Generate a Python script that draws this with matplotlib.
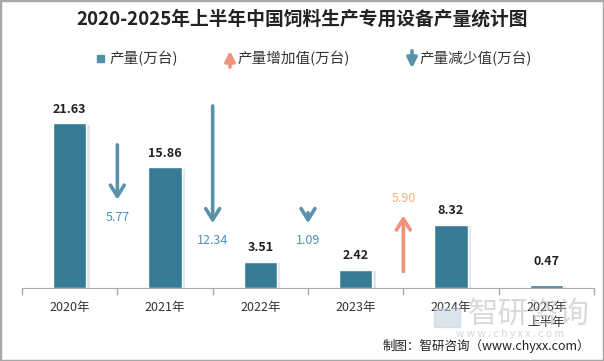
import numpy as np
import matplotlib.pyplot as plt
import matplotlib.patheffects as pe
from matplotlib.patches import Rectangle, FancyArrowPatch

plt.rcParams['font.family'] = ['Noto Sans CJK SC', 'DejaVu Sans']

# 数据
years = ['2020年', '2021年', '2022年', '2023年', '2024年', '2025年\n上半年']
output = [21.63, 15.86, 3.51, 2.42, 8.32, 0.47]
change = [-5.77, -12.34, -1.09, 5.90]

# 箭头起点（数据坐标）
arrow_tail = [18.8, 23.9, 9.9, 2.2]
k = 1.245

bar_color = '#367A94'
down_color = '#5B92AA'
down_text = '#4E90B8'
up_color = '#F0937B'
up_text = '#F5B07A'

fig = plt.figure(figsize=(6.04, 3.61), dpi=100)
ax = fig.add_axes([22 / 604, 72.7 / 361, 572 / 604, 190.75 / 361])

x = np.arange(len(years))
bars = ax.bar(x, output, width=0.35, color=bar_color, edgecolor='white',
              linewidth=1, zorder=3)
for b in bars:
    b.set_path_effects([pe.SimplePatchShadow(offset=(2.5, -1), shadow_rgbFace='0.6', alpha=0.25),
                        pe.Normal()])

# 柱子数值
for i, v in enumerate(output):
    off = 17 if i == 5 else 10
    ax.annotate(f'{v:.2f}', (x[i], v), xytext=(0, off), textcoords='offset points',
                ha='center', va='center', fontsize=9, fontweight='bold', color='#222222')

# 增减箭头
for i, c in enumerate(change):
    xp = x[i] + 0.5
    tail = arrow_tail[i]
    head = tail + c * k
    col = up_color if c > 0 else down_color
    ax.annotate('', xy=(xp, head), xytext=(xp, tail),
                arrowprops=dict(arrowstyle='->,head_length=0.4,head_width=0.25',
                                mutation_scale=20, lw=2.6, color=col,
                                shrinkA=0, shrinkB=0), zorder=4)
    if c > 0:
        ax.annotate(f'{abs(c):.2f}', (xp, head), xytext=(0, 12), textcoords='offset points',
                    ha='center', va='center', fontsize=9, color=up_text)
    else:
        ax.annotate(f'{abs(c):.2f}', (xp, head), xytext=(0, -12.5), textcoords='offset points',
                    ha='center', va='center', fontsize=9, color=down_text)

ax.set_xlim(-0.5, len(years) - 0.5)
ax.set_ylim(0, 25)
ax.set_xticks(np.arange(-0.5, len(years)))
ax.set_xticklabels([])
ax.tick_params(axis='x', length=5, color='#AAAAAA', width=1, direction='out')
ax.set_yticks([])
for s in ['top', 'right', 'left']:
    ax.spines[s].set_visible(False)
ax.spines['bottom'].set_color('#AAAAAA')
for i, t in enumerate(years):
    ax.text(x[i], -0.065, t, transform=ax.get_xaxis_transform(), ha='center', va='top',
            fontsize=9, color='#333333', linespacing=1.2)

# 标题
fig.text(0.5, 1 - 19 / 361, '2020-2025年上半年中国饲料生产专用设备产量统计图',
         ha='center', va='center', fontsize=13.5, fontweight='bold', color='#222222')

# 图例
ly = 1 - 58.5 / 361
fig.patches.append(Rectangle((97 / 604, 1 - 62 / 361), 7 / 604, 7 / 361,
                             transform=fig.transFigure, color='#4E91A8'))
fig.text(109 / 604, ly, '产量(万台)', ha='left', va='center', fontsize=10.5, color='#333333')
fig.patches.append(FancyArrowPatch(
    (230 / 604, 1 - 70 / 361), (230 / 604, 1 - 48 / 361), transform=fig.transFigure,
    arrowstyle='-|>,head_length=0.3,head_width=0.15', mutation_scale=20, lw=2.5,
    color=up_color))
fig.text(237 / 604, ly, '产量增加值(万台)', ha='left', va='center', fontsize=10.5, color='#333333')
fig.patches.append(FancyArrowPatch(
    (412 / 604, 1 - 48 / 361), (412 / 604, 1 - 71 / 361), transform=fig.transFigure,
    arrowstyle='-|>,head_length=0.3,head_width=0.15', mutation_scale=20, lw=2.5,
    color=down_color))
fig.text(419 / 604, ly, '产量减少值(万台)', ha='left', va='center', fontsize=10.5, color='#333333')

# 水印
fig.text(468 / 604, 1 - 314 / 361, '智研咨询', ha='left', va='center', fontsize=22,
         color='#BBBBBB', alpha=0.55)
fig.patches.append(Rectangle((434 / 604, 1 - 327 / 361), 26 / 604, 19 / 361,
                             transform=fig.transFigure, color='#B9CCDA', alpha=0.5))
fig.text(510 / 604, 1 - 334 / 361, 'w w w . c h y x x . c o m', ha='center', va='center',
         fontsize=7.5, color='#BBBBBB', alpha=0.6)

# 来源
fig.text(590 / 604, 1 - 346 / 361, '制图：智研咨询（www.chyxx.com）', ha='right', va='center',
         fontsize=9, color='#222222')

# 边框
fig.patches.append(Rectangle((0, 0), 1, 1, transform=fig.transFigure, fill=False,
                             edgecolor='#A8A8A8', linewidth=2.5))

fig.savefig('out.png', dpi=100)
